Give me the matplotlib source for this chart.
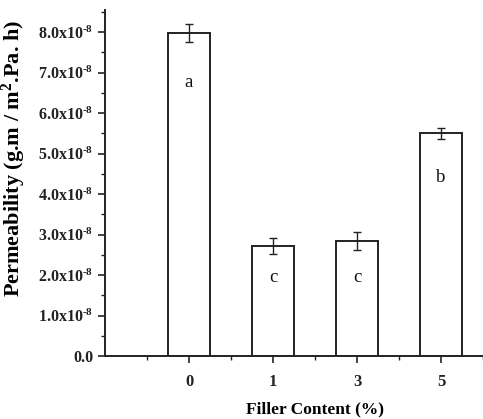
import matplotlib
matplotlib.use("Agg")
import matplotlib.pyplot as plt
from matplotlib.ticker import MultipleLocator, FixedLocator, FuncFormatter

categories = ["0", "1", "3", "5"]
permeability = [7.98, 2.72, 2.85, 5.50]   # x1e-8
errors = [0.22, 0.19, 0.22, 0.14]
letters = ["a", "c", "c", "b"]
letter_y = [6.77, 1.93, 1.93, 4.42]

plt.rcParams['font.family'] = ['Liberation Serif', 'DejaVu Serif']
plt.rcParams['font.weight'] = 'bold'
plt.rcParams['mathtext.fontset'] = 'custom'
plt.rcParams['mathtext.rm'] = 'Liberation Serif:bold'
plt.rcParams['mathtext.bf'] = 'Liberation Serif:bold'
plt.rcParams['mathtext.default'] = 'bf'

fig = plt.figure(figsize=(4.83, 4.19), dpi=100)
ax = fig.add_axes([105/483, 63/419, 378/483, 346/419])

x = list(range(len(categories)))
ax.bar(x, permeability, width=0.51, color='white', edgecolor='#222222', linewidth=1.4, zorder=2)
ax.errorbar(x, permeability, yerr=errors, fmt='none', ecolor='#222222', elinewidth=1.0,
            capsize=3, capthick=1.0, zorder=3)
for xi, lab, ly in zip(x, letters, letter_y):
    ax.text(xi, ly, lab, ha='center', va='center', fontsize=13.5, fontweight='normal', color='#111111')

ax.set_xlim(-1, 3.5)
ax.set_ylim(0, 8.55)
ax.spines['top'].set_visible(False)
ax.spines['right'].set_visible(False)
for s in ['left', 'bottom']:
    ax.spines[s].set_linewidth(1.4)
    ax.spines[s].set_color('#222222')

ax.set_xticks(x)
ax.set_xticklabels(categories)
ax.xaxis.set_minor_locator(FixedLocator([-0.5, 0.5, 1.5, 2.5, 3.5]))
ax.yaxis.set_major_locator(MultipleLocator(1))
ax.yaxis.set_minor_locator(MultipleLocator(0.5))

def yfmt(v, pos):
    if abs(v) < 1e-9:
        return "0.0"
    return "%.1fx10$^{\u20108}$" % v
ax.yaxis.set_major_formatter(FuncFormatter(yfmt))

ax.tick_params(axis='both', which='major', direction='out', length=5, width=1.2, colors='#222222', labelsize=11.5)
ax.tick_params(axis='both', which='minor', direction='out', length=3, width=1.0, colors='#222222')
ax.tick_params(axis='x', labelsize=12, pad=8)

ax.set_ylabel("Permeability (g.m / m$^{2}$.Pa. h)", fontsize=16, fontweight='bold')
ax.yaxis.set_label_coords(-77 / 378, (356 - 158) / 346)
ax.set_xlabel("Filler Content (%)", fontsize=12.5, fontweight='bold')
ax.xaxis.set_label_coords((315 - 105) / 378, -45 / 346)

fig.savefig("out.png", dpi=100)
